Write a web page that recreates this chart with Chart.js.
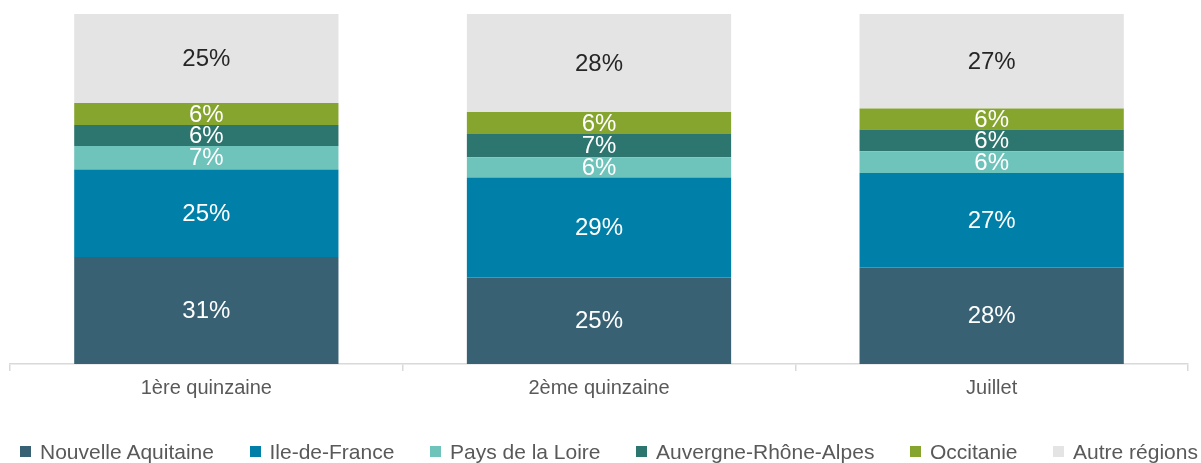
<!DOCTYPE html>
<html>
<head>
<meta charset="utf-8">
<script src="https://cdn.jsdelivr.net/npm/chart.js@4"></script>
<style>
  html, body { margin: 0; padding: 0; background: #fff; }
  #wrap { position: relative; width: 1201px; height: 463px; }
  #legend-container ul {
    position: absolute; left: 0; top: 439px; width: 1201px; box-sizing: border-box;
    display: flex; justify-content: space-between; list-style: none;
    margin: 0; padding: 0 3px 0 20px;
    font: 21px "Liberation Sans", Arial, sans-serif; color: #595959; line-height: 26px;
  }
  #legend-container ul li span { vertical-align: middle; }
</style>
</head>
<body>
<div id="wrap">
  <canvas id="myChart" width="1201" height="463"></canvas>
  <div id="legend-container"></div>
</div>
<script>
const categories = ['1ère quinzaine', '2ème quinzaine', 'Juillet'];
const regions = ['Nouvelle Aquitaine', 'Ile-de-France', 'Pays de la Loire', 'Auvergne-Rhône-Alpes', 'Occitanie', 'Autre régions'];
const nouvelleAquitaine = [30.6, 24.7, 27.6];
const ileDeFrance = [25.0, 28.6, 27.0];
const paysDeLaLoire = [6.7, 5.8, 6.2];
const auvergneRhoneAlpes = [6.0, 6.6, 6.2];
const occitanie = [6.3, 6.3, 6.0];
const autreRegions = [25.4, 28.0, 27.0];

const colors = ['#386274', '#0080A8', '#6EC3BB', '#2D756F', '#86A52F', '#E4E4E4'];
const labelColors = ['#fff', '#fff', '#fff', '#fff', '#fff', '#262626'];
const series = [nouvelleAquitaine, ileDeFrance, paysDeLaLoire, auvergneRhoneAlpes, occitanie, autreRegions];

// draws the percentage in the middle of each segment
const segmentLabels = {
  id: 'segmentLabels',
  afterDatasetsDraw(chart) {
    const ctx = chart.ctx;
    ctx.save();
    ctx.font = '24px "Liberation Sans", Arial, sans-serif';
    ctx.textAlign = 'center';
    ctx.textBaseline = 'middle';
    chart.data.datasets.forEach((ds, i) => {
      const meta = chart.getDatasetMeta(i);
      meta.data.forEach((bar, j) => {
        ctx.fillStyle = labelColors[i];
        ctx.fillText(Math.round(ds.data[j]) + '%', bar.x, (bar.y + bar.base) / 2 + 1);
      });
    });
    ctx.restore();
  }
};

// html legend, built from the chart data
const htmlLegend = {
  id: 'htmlLegend',
  afterUpdate(chart) {
    let ul = document.createElement('ul');
    chart.data.datasets.forEach(function (ds) {
      ul.innerHTML += `<li><span style="display:inline-block;width:11px;height:11px;margin-right:9px;background:${ds.backgroundColor};position:relative;top:-2px"></span>${ds.label}</li>`;
    });
    document.getElementById('legend-container').innerHTML = ul.outerHTML;
  }
};

const ctx = document.getElementById('myChart').getContext('2d');
new Chart(ctx, {
  type: 'bar',
  data: {
    labels: categories,
    datasets: series.map((data, i) => ({
      label: regions[i],
      data: data,
      backgroundColor: colors[i],
      borderWidth: 0,
      barPercentage: 0.673,
      categoryPercentage: 1
    }))
  },
  options: {
    responsive: false,
    animation: false,
    layout: { padding: { top: 14, left: 10, right: 13, bottom: 58 } },
    scales: {
      x: {
        stacked: true,
        grid: { drawOnChartArea: false, color: '#d9d9d9', tickLength: 7, lineWidth: 1.5 },
        border: { color: '#d9d9d9', width: 1.5 },
        ticks: { color: '#595959', font: { family: '"Liberation Sans", Arial, sans-serif', size: 20 }, padding: 5 }
      },
      y: {
        stacked: true,
        display: false,
        min: 0,
        max: 100
      }
    },
    plugins: {
      tooltip: { enabled: false },
      legend: { display: false }
    }
  },
  plugins: [segmentLabels, htmlLegend]
});
</script>
</body>
</html>
